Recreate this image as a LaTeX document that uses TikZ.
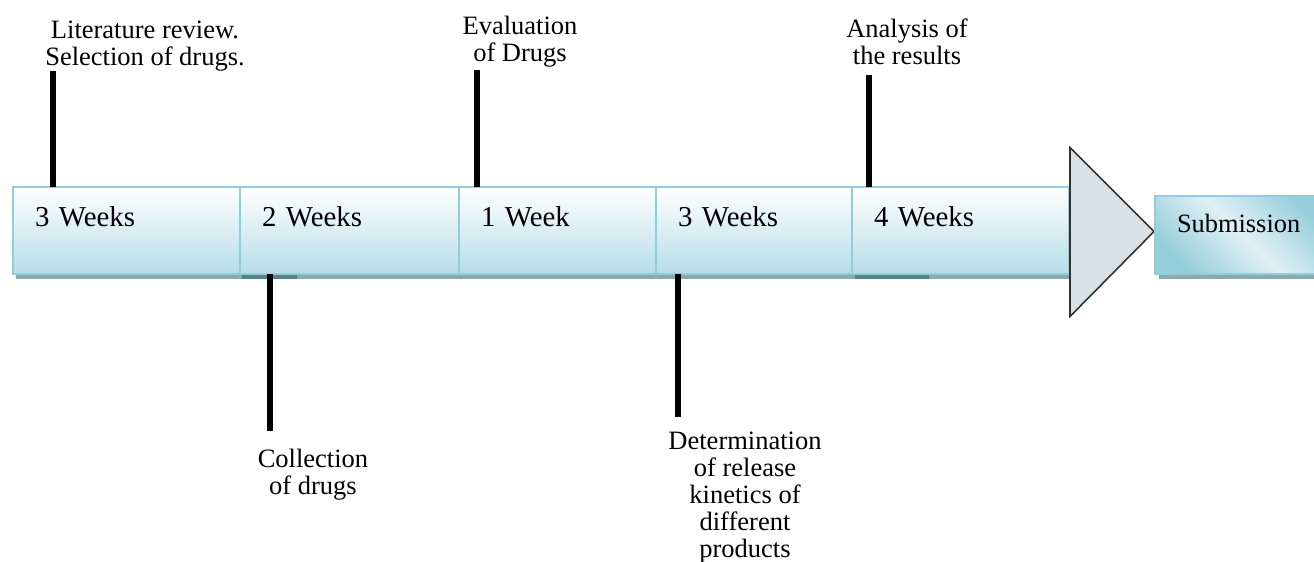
\documentclass[tikz,border=0pt]{standalone}
\usepackage{fontspec}
\setmainfont{Liberation Serif}
\usepackage{xcolor}
\usetikzlibrary{positioning, shadows, calc}

\definecolor{stageline}{RGB}{146,205,220}
\definecolor{stagelow}{RGB}{182,221,231}
\definecolor{shadowgray}{RGB}{143,168,175}
\definecolor{shadowdark}{RGB}{88,126,136}
\definecolor{headfill}{RGB}{216,226,230}
\definecolor{headline}{RGB}{50,50,50}
\definecolor{subdark}{RGB}{150,206,219}
\definecolor{sublight}{RGB}{224,240,245}

\begin{document}
\begin{tikzpicture}[x=0.5pt,y=-0.5pt,
  stage/.style={draw=stageline,line width=1pt,top color=white,bottom color=stagelow,
    drop shadow={shadow xshift=1.5pt,shadow yshift=-2.5pt,fill=shadowgray,opacity=1},
    text width=#1,align=left,inner xsep=11pt,inner ysep=0pt,outer sep=0pt,
    text height=19.5pt,text depth=24pt,font=\fontsize{14.4}{16}\selectfont},
  final/.style={draw=stageline,line width=1pt,
    left color=subdark,right color=subdark,middle color=sublight,shading angle=-45,
    drop shadow={shadow xshift=2pt,shadow yshift=-2.5pt,fill=shadowgray,opacity=1},
    text width=65.5pt,align=left,inner xsep=11pt,inner ysep=0pt,outer sep=0pt,
    text height=18pt,text depth=21pt,font=\fontsize{13.2}{15}\selectfont},
  note/.style={align=center,font=\fontsize{13.25}{13.5}\selectfont,inner sep=0pt},
  tick/.style={line width=3pt}]
  \clip (0,0) rectangle (1314,562);

  % timeline bar
  \node[stage=91.5pt,anchor=north west] (w1) at (13,187) {3 Weeks};
  \node[stage=87.5pt,right=0pt of w1] (w2) {2 Weeks};
  \node[stage=76.5pt,right=0pt of w2] (w3) {1 Week};
  \node[stage=76pt,right=0pt of w3] (w4) {3 Weeks};
  \node[stage=86.5pt,right=0pt of w4] (w5) {4 Weeks};
  \fill[shadowdark] ($(w2.south west)+(2,1)$) rectangle ++(55,4);
  \fill[shadowdark] ($(w5.south west)+(3,1)$) rectangle ++(74,4);

  % arrow head
  \draw[headline,fill=headfill,line width=0.8pt]
    ($(w5.east)+(1,-83)$) -- ++(84,84) -- ++(-84,85) -- cycle;

  \node[final,anchor=north west] (sub) at (1155,196) {Submission};

  % milestones
  \node[note] (lit) at (145,46) {Literature review.\\Selection of drugs.};
  \node[note] (eval) at (520,42) {Evaluation\\of Drugs};
  \node[note] (ana) at (907,42) {Analysis of\\the results};
  \node[note] (col) at (313,475) {Collection\\of drugs};
  \node[note] (det) at (745,498) {Determination\\of release\\kinetics of\\different\\products};

  \coordinate (t1) at (53,71);
  \coordinate (t3) at (477,70);
  \coordinate (t5) at (869,75);
  \coordinate (b2) at (270,431);
  \coordinate (b4) at (678,417);
  \draw[tick] (t1) -- (t1 |- w1.north);
  \draw[tick] (t3) -- (t3 |- w3.north);
  \draw[tick] (t5) -- (t5 |- w5.north);
  \draw[tick] (b2 |- w2.south) -- (b2);
  \draw[tick] (b4 |- w4.south) -- (b4);
\end{tikzpicture}
\end{document}
